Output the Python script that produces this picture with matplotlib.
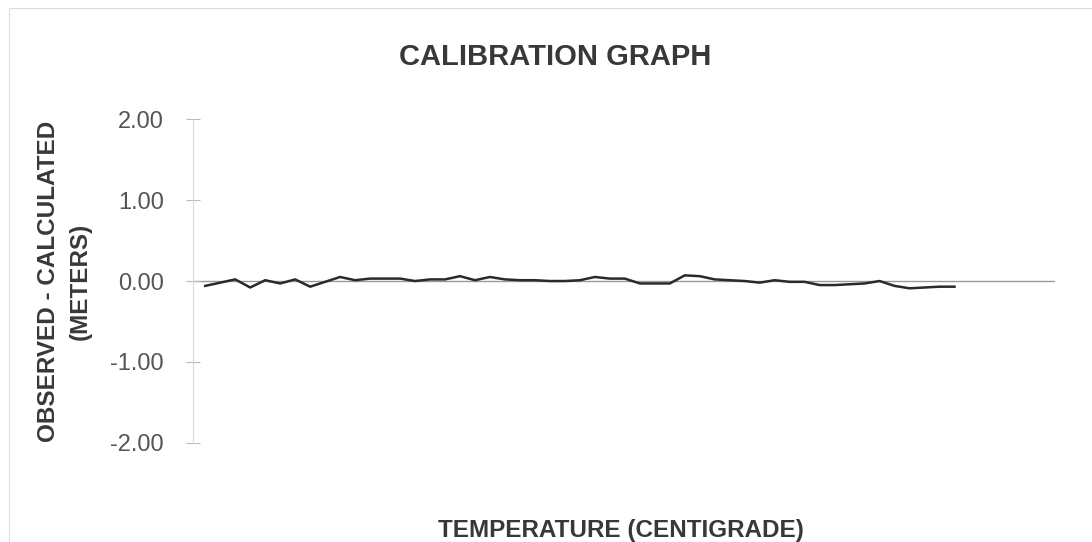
import matplotlib.pyplot as plt
import numpy as np

plt.rcParams['font.family'] = ['Liberation Sans', 'DejaVu Sans']

# Observed - calculated residuals (meters)
residuals = [-0.06, -0.02, 0.02, -0.08, 0.01, -0.03, 0.02, -0.07, -0.01, 0.05,
             0.01, 0.03, 0.03, 0.03, 0.00, 0.02, 0.02, 0.06, 0.01, 0.05,
             0.02, 0.01, 0.01, 0.00, 0.00, 0.01, 0.05, 0.03, 0.03, -0.03,
             -0.03, -0.03, 0.07, 0.06, 0.02, 0.01, 0.00, -0.02, 0.01, -0.01,
             -0.01, -0.05, -0.05, -0.04, -0.03, 0.00, -0.06, -0.09, -0.08, -0.07,
             -0.07]
temps = np.arange(len(residuals))
yticks = [-2.0, -1.0, 0.0, 1.0, 2.0]

fig = plt.figure(figsize=(10.92, 5.42), dpi=100)
ax = fig.add_axes([0.177, 0.183, 0.789, 0.597])

ax.plot(temps, residuals, color='#2a2a2a', linewidth=1.8)
ax.axhline(0, color='#9a9a9a', linewidth=1.0, zorder=0)

ax.set_xlim(-0.8, 56.7)
ax.set_ylim(-2, 2)
ax.set_yticks(yticks)
ax.set_yticklabels([f'{v:.2f}' for v in yticks], fontsize=17, color='#555555')
ax.set_xticks([])

for s in ['top', 'right', 'bottom']:
    ax.spines[s].set_visible(False)
ax.spines['left'].set_color('#d8d8d8')
ax.spines['left'].set_linewidth(0.8)
ax.tick_params(axis='y', direction='inout', length=10, color='#bbbbbb', pad=16)

fig.text(0.059, 0.481, 'OBSERVED - CALCULATED\n(METERS)', rotation=90,
         ha='center', va='center', multialignment='center', fontsize=17.5,
         fontweight='bold', color='#383838', linespacing=1.45)
fig.text(0.569, 0.022, 'TEMPERATURE (CENTIGRADE)', ha='center', va='center',
         fontsize=17.5, fontweight='bold', color='#383838')
fig.text(0.508, 0.895, 'CALIBRATION GRAPH', ha='center', va='center', fontsize=21,
         fontweight='bold', color='#383838')

# faint page border
fig.patches.append(plt.Rectangle((0.008, -0.1), 1.1, 1.085, transform=fig.transFigure,
                                 fill=False, edgecolor='#dddddd', linewidth=0.8))

fig.savefig('out.png', dpi=100)
